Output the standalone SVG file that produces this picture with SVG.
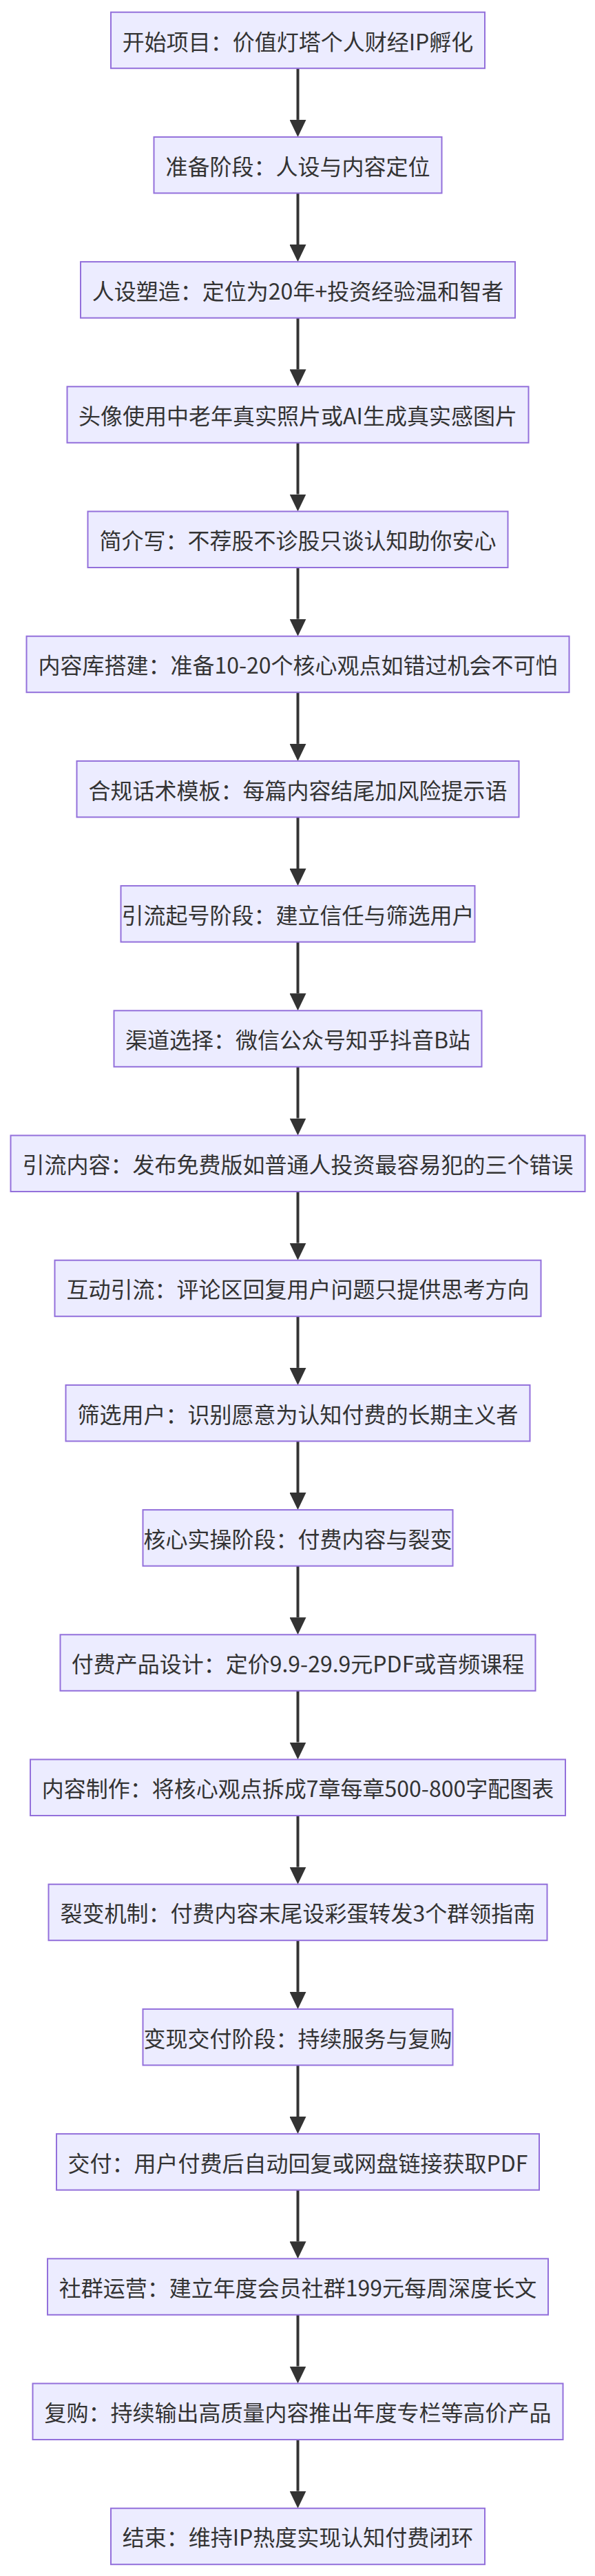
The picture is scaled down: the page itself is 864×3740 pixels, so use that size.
<svg xmlns="http://www.w3.org/2000/svg" width="864" height="3740" viewBox="0 0 864 3740">
<style>
.n rect{fill:#ECECFF;stroke:#9370DB;stroke-width:2}
.n text{font-family:"Noto Sans CJK SC","Noto Sans",sans-serif;font-size:32px;fill:#333;text-anchor:middle;dominant-baseline:central}
.e path{stroke:#333;stroke-width:4;fill:none;marker-end:url(#a)}
</style>
<defs><marker id="a" viewBox="0 0 25 24" refX="0" refY="12" markerWidth="25" markerHeight="24" markerUnits="userSpaceOnUse" orient="auto"><path d="M0,0 L25,12 L0,24 z" fill="#333"/></marker></defs>
<rect width="864" height="3740" fill="#fff"/>
<g class="e">
<path d="M432.5,99.2V173.9"/><path d="M432.5,280.4V355.1"/><path d="M432.5,461.6V536.3"/><path d="M432.5,642.8V717.5"/><path d="M432.5,824V898.7"/><path d="M432.5,1005.2V1079.9"/><path d="M432.5,1186.4V1261.1"/><path d="M432.5,1367.6V1442.3"/><path d="M432.5,1548.8V1623.5"/><path d="M432.5,1730V1804.7"/><path d="M432.5,1911.2V1985.9"/><path d="M432.5,2092.4V2167.1"/><path d="M432.5,2273.6V2348.3"/><path d="M432.5,2454.8V2529.5"/><path d="M432.5,2636V2710.7"/><path d="M432.5,2817.2V2891.9"/><path d="M432.5,2998.4V3073.1"/><path d="M432.5,3179.6V3254.3"/><path d="M432.5,3360.8V3435.5"/><path d="M432.5,3542V3616.7"/>
</g>
<g id="n1" class="n"><rect x="161" y="17.7" width="543" height="81.5"/><text x="432.5" y="58.5">开始项目：价值灯塔个人财经IP孵化</text></g>
<g id="n2" class="n"><rect x="223.5" y="198.9" width="418" height="81.5"/><text x="432.5" y="239.6">准备阶段：人设与内容定位</text></g>
<g id="n3" class="n"><rect x="117" y="380.1" width="631" height="81.5"/><text x="432.5" y="420.8">人设塑造：定位为20年+投资经验温和智者</text></g>
<g id="n4" class="n"><rect x="97.5" y="561.3" width="670" height="81.5"/><text x="432.5" y="602">头像使用中老年真实照片或AI生成真实感图片</text></g>
<g id="n5" class="n"><rect x="127.5" y="742.5" width="610" height="81.5"/><text x="432.5" y="783.2">简介写：不荐股不诊股只谈认知助你安心</text></g>
<g id="n6" class="n"><rect x="38.5" y="923.7" width="788" height="81.5"/><text x="432.5" y="964.4">内容库搭建：准备10-20个核心观点如错过机会不可怕</text></g>
<g id="n7" class="n"><rect x="111.5" y="1104.9" width="642" height="81.5"/><text x="432.5" y="1145.6">合规话术模板：每篇内容结尾加风险提示语</text></g>
<g id="n8" class="n"><rect x="175.5" y="1286.1" width="514" height="81.5"/><text x="432.5" y="1326.8">引流起号阶段：建立信任与筛选用户</text></g>
<g id="n9" class="n"><rect x="165.5" y="1467.3" width="534" height="81.5"/><text x="432.5" y="1508">渠道选择：微信公众号知乎抖音B站</text></g>
<g id="n10" class="n"><rect x="15.5" y="1648.5" width="834" height="81.5"/><text x="432.5" y="1689.2">引流内容：发布免费版如普通人投资最容易犯的三个错误</text></g>
<g id="n11" class="n"><rect x="79.5" y="1829.7" width="706" height="81.5"/><text x="432.5" y="1870.4">互动引流：评论区回复用户问题只提供思考方向</text></g>
<g id="n12" class="n"><rect x="95.5" y="2010.9" width="674" height="81.5"/><text x="432.5" y="2051.6">筛选用户：识别愿意为认知付费的长期主义者</text></g>
<g id="n13" class="n"><rect x="207.5" y="2192.1" width="450" height="81.5"/><text x="432.5" y="2232.8">核心实操阶段：付费内容与裂变</text></g>
<g id="n14" class="n"><rect x="87.5" y="2373.3" width="690" height="81.5"/><text x="432.5" y="2414">付费产品设计：定价9.9-29.9元PDF或音频课程</text></g>
<g id="n15" class="n"><rect x="44" y="2554.5" width="777" height="81.5"/><text x="432.5" y="2595.2">内容制作：将核心观点拆成7章每章500-800字配图表</text></g>
<g id="n16" class="n"><rect x="70.5" y="2735.7" width="724" height="81.5"/><text x="432.5" y="2776.4">裂变机制：付费内容末尾设彩蛋转发3个群领指南</text></g>
<g id="n17" class="n"><rect x="207.5" y="2916.9" width="450" height="81.5"/><text x="432.5" y="2957.6">变现交付阶段：持续服务与复购</text></g>
<g id="n18" class="n"><rect x="82" y="3098.1" width="701" height="81.5"/><text x="432.5" y="3138.8">交付：用户付费后自动回复或网盘链接获取PDF</text></g>
<g id="n19" class="n"><rect x="69" y="3279.3" width="727" height="81.5"/><text x="432.5" y="3320">社群运营：建立年度会员社群199元每周深度长文</text></g>
<g id="n20" class="n"><rect x="47.5" y="3460.5" width="770" height="81.5"/><text x="432.5" y="3501.2">复购：持续输出高质量内容推出年度专栏等高价产品</text></g>
<g id="n21" class="n"><rect x="161" y="3641.7" width="543" height="81.5"/><text x="432.5" y="3682.4">结束：维持IP热度实现认知付费闭环</text></g>
</svg>
